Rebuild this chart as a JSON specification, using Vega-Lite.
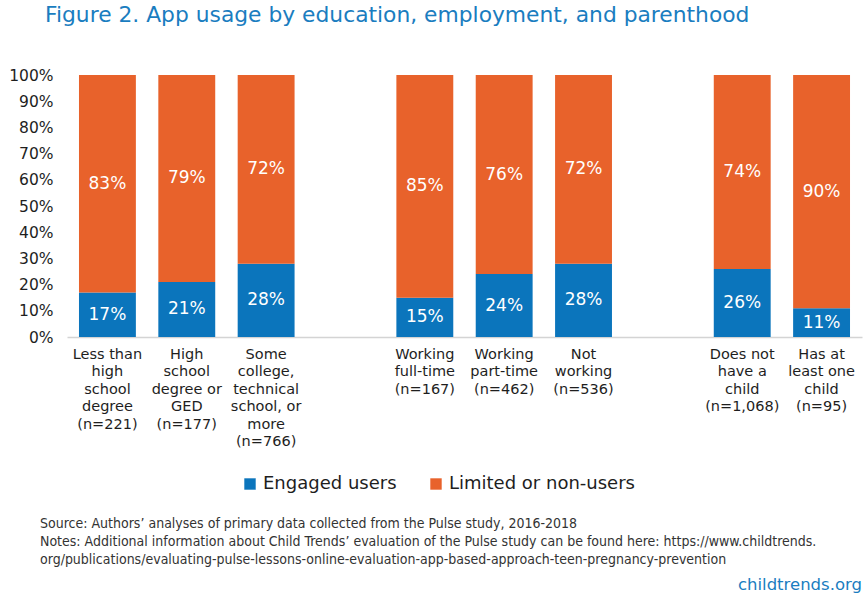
{
  "$schema": "https://vega.github.io/schema/vega-lite/v6.json",
  "background": "white",
  "padding": {"left": 8, "top": 5, "right": 5, "bottom": 5},
  "title": {
    "text": "childtrends.org",
    "orient": "bottom",
    "anchor": "end",
    "frame": "group",
    "font": "DejaVu Sans",
    "fontSize": 16.5,
    "fontWeight": "normal",
    "color": "#1a7dc0",
    "offset": 10
  },
  "vconcat": [
    {
      "title": {
        "text": "Figure 2. App usage by education, employment, and parenthood",
        "anchor": "start",
        "frame": "group",
        "dx": -22,
        "font": "DejaVu Sans",
        "fontSize": 21.8,
        "fontWeight": "normal",
        "color": "#1a7dc0",
        "offset": 41
      },
      "vconcat": [
        {
          "width": 795,
          "height": 262,
          "title": {
            "text": [
              "Source: Authors’ analyses of primary data collected from the Pulse study, 2016-2018",
              "Notes: Additional information about Child Trends’ evaluation of the Pulse study can be found here: https://www.childtrends.",
              "org/publications/evaluating-pulse-lessons-online-evaluation-app-based-approach-teen-pregnancy-prevention"
            ],
            "orient": "bottom",
            "anchor": "start",
            "frame": "group",
            "dx": -27,
            "font": "DejaVu Sans Condensed",
            "fontSize": 14,
            "fontWeight": "normal",
            "color": "#333333",
            "lineHeight": 18,
            "offset": 24
          },
          "data": {
            "values": [
              {"cat": "Less than|high|school|degree|(n=221)", "series": "Engaged users", "order": 1, "value": 17},
              {"cat": "Less than|high|school|degree|(n=221)", "series": "Limited or non-users", "order": 2, "value": 83},
              {"cat": "High|school|degree or|GED|(n=177)", "series": "Engaged users", "order": 1, "value": 21},
              {"cat": "High|school|degree or|GED|(n=177)", "series": "Limited or non-users", "order": 2, "value": 79},
              {"cat": "Some|college,|technical|school, or|more|(n=766)", "series": "Engaged users", "order": 1, "value": 28},
              {"cat": "Some|college,|technical|school, or|more|(n=766)", "series": "Limited or non-users", "order": 2, "value": 72},
              {"cat": "Working|full-time|(n=167)", "series": "Engaged users", "order": 1, "value": 15},
              {"cat": "Working|full-time|(n=167)", "series": "Limited or non-users", "order": 2, "value": 85},
              {"cat": "Working|part-time|(n=462)", "series": "Engaged users", "order": 1, "value": 24},
              {"cat": "Working|part-time|(n=462)", "series": "Limited or non-users", "order": 2, "value": 76},
              {"cat": "Not|working|(n=536)", "series": "Engaged users", "order": 1, "value": 28},
              {"cat": "Not|working|(n=536)", "series": "Limited or non-users", "order": 2, "value": 72},
              {"cat": "Does not|have a|child|(n=1,068)", "series": "Engaged users", "order": 1, "value": 26},
              {"cat": "Does not|have a|child|(n=1,068)", "series": "Limited or non-users", "order": 2, "value": 74},
              {"cat": "Has at|least one|child|(n=95)", "series": "Engaged users", "order": 1, "value": 11},
              {"cat": "Has at|least one|child|(n=95)", "series": "Limited or non-users", "order": 2, "value": 90}
            ]
          },
          "transform": [
            {"stack": "value", "groupby": ["cat"], "sort": [{"field": "order", "order": "ascending"}], "as": ["v0", "v1"]},
            {"calculate": "(datum.v0 + min(datum.v1, 100)) / 2", "as": "mid"},
            {"calculate": "datum.value + '%'", "as": "label"}
          ],
          "encoding": {
            "x": {
              "field": "cat",
              "type": "nominal",
              "title": null,
              "sort": null,
              "scale": {
                "domain": [
                  "Less than|high|school|degree|(n=221)",
                  "High|school|degree or|GED|(n=177)",
                  "Some|college,|technical|school, or|more|(n=766)",
                  "gap1",
                  "Working|full-time|(n=167)",
                  "Working|part-time|(n=462)",
                  "Not|working|(n=536)",
                  "gap2",
                  "Does not|have a|child|(n=1,068)",
                  "Has at|least one|child|(n=95)"
                ],
                "paddingInner": 0.283,
                "paddingOuter": 0.151
              },
              "axis": {
                "labelExpr": "indexof(datum.value, 'gap') == 0 ? '' : split(datum.value, '|')",
                "labelAngle": 0,
                "labelAlign": "center",
                "labelBaseline": "top",
                "labelFont": "DejaVu Sans",
                "labelFontSize": 14.5,
                "labelLineHeight": 17.5,
                "labelColor": "#1e1e1e",
                "labelPadding": 10,
                "labelOverlap": false,
                "labelLimit": 0,
                "ticks": false,
                "domainColor": "#d4d4d4",
                "domainWidth": 1.5,
                "grid": false
              }
            }
          },
          "resolve": {"axis": {"y": "independent"}},
          "layer": [
            {
              "mark": {"type": "bar"},
              "encoding": {
                "y": {
                  "field": "v0",
                  "type": "quantitative",
                  "title": null,
                  "scale": {"domain": [0, 100], "clamp": true, "nice": false},
                  "axis": {
                    "values": [0, 10, 20, 30, 40, 50, 60, 70, 80, 90, 100],
                    "labelExpr": "datum.value + '%'",
                    "labelFont": "DejaVu Sans",
                    "labelFontSize": 15.5,
                    "labelColor": "#1e1e1e",
                    "labelPadding": 14,
                    "labelOverlap": false,
                    "domain": false,
                    "ticks": false,
                    "grid": false
                  }
                },
                "y2": {"field": "v1"},
                "color": {
                  "field": "series",
                  "type": "nominal",
                  "sort": null,
                  "scale": {"domain": ["Engaged users", "Limited or non-users"], "range": ["#0b75bc", "#e8622b"]},
                  "legend": {
                    "orient": "none",
                    "legendX": 174,
                    "legendY": 400,
                    "direction": "horizontal",
                    "title": null,
                    "symbolType": "square",
                    "symbolSize": 130,
                    "symbolStrokeWidth": 0,
                    "labelFont": "DejaVu Sans",
                    "labelFontSize": 18,
                    "labelColor": "#1e1e1e",
                    "labelLimit": 0,
                    "columnPadding": 30
                  }
                }
              }
            },
            {
              "mark": {"type": "text", "color": "white", "font": "DejaVu Sans", "fontSize": 17, "align": "center", "baseline": "middle"},
              "encoding": {
                "y": {"field": "mid", "type": "quantitative", "axis": null},
                "text": {"field": "label"}
              }
            }
          ]
        }
      ],
      "resolve": {"scale": {"color": "independent"}, "legend": {"color": "independent"}}
    }
  ],
  "resolve": {"scale": {"color": "independent"}, "legend": {"color": "independent"}},
  "config": {
    "view": {"stroke": null}
  }
}
